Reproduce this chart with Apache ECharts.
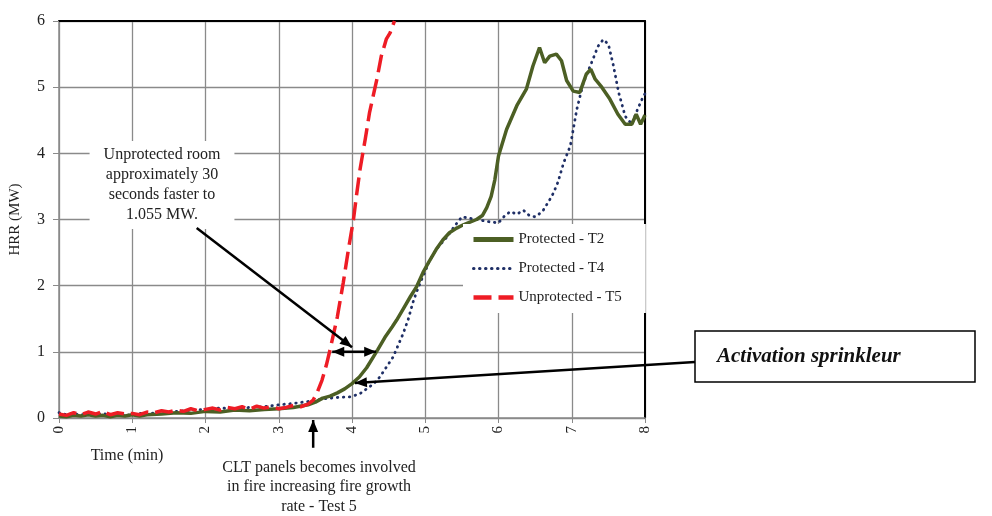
<!DOCTYPE html>
<html>
<head>
<meta charset="utf-8">
<script src="https://cdn.jsdelivr.net/npm/echarts@6/dist/echarts.min.js"></script>
<style>
  html, body { margin: 0; padding: 0; background: #fff; }
  #chart { width: 992px; height: 516px; }
</style>
</head>
<body>
<div id="chart"></div>
<script>
// time (min), HRR (MW)
const t2Time = [0,0.1,0.2,0.3,0.4,0.5,0.6,0.7,0.8,0.9,1.0,1.1,1.2,1.4,1.6,1.8,2.0,2.2,2.4,2.6,2.8,3.0,3.2,3.4,3.5,3.6,3.7,3.8,3.9,4.0,4.1,4.2,4.3,4.35,4.45,4.55,4.61,4.7,4.8,4.88,4.97,5.06,5.15,5.24,5.33,5.43,5.52,5.61,5.7,5.78,5.84,5.9,5.95,6.0,6.11,6.25,6.38,6.47,6.56,6.63,6.7,6.79,6.86,6.93,7.02,7.11,7.2,7.26,7.32,7.41,7.52,7.63,7.73,7.82,7.88,7.94,8.0];
const t2Hrr  = [0.03,0.02,0.04,0.03,0.05,0.03,0.04,0.02,0.04,0.03,0.05,0.03,0.05,0.06,0.08,0.07,0.10,0.09,0.12,0.11,0.13,0.14,0.16,0.20,0.24,0.30,0.33,0.38,0.44,0.52,0.62,0.76,0.94,1.03,1.22,1.38,1.48,1.65,1.84,1.98,2.20,2.38,2.55,2.69,2.80,2.87,2.92,2.96,3.00,3.06,3.18,3.35,3.60,3.96,4.36,4.72,4.97,5.32,5.60,5.37,5.47,5.50,5.40,5.10,4.94,4.92,5.20,5.27,5.12,5.00,4.82,4.59,4.44,4.44,4.59,4.44,4.58];

const t4Time = [0,0.1,0.2,0.3,0.4,0.5,0.6,0.7,0.8,0.9,1.0,1.1,1.2,1.4,1.6,1.8,2.0,2.2,2.4,2.6,2.8,3.0,3.2,3.4,3.6,3.8,3.97,4.1,4.2,4.3,4.38,4.47,4.56,4.63,4.7,4.77,4.83,4.88,4.93,5.0,5.06,5.15,5.3,5.4,5.5,5.6,5.7,5.8,5.9,6.0,6.08,6.16,6.25,6.34,6.42,6.5,6.6,6.7,6.75,6.81,6.89,6.98,7.07,7.16,7.27,7.36,7.43,7.5,7.57,7.64,7.73,7.82,7.9,7.98,8.0];
const t4Hrr  = [0.08,0.05,0.07,0.04,0.09,0.05,0.07,0.04,0.06,0.05,0.04,0.07,0.06,0.09,0.10,0.12,0.13,0.15,0.14,0.16,0.17,0.20,0.22,0.25,0.29,0.31,0.32,0.36,0.44,0.52,0.62,0.77,0.92,1.10,1.28,1.50,1.74,1.90,2.04,2.22,2.38,2.55,2.74,2.90,3.04,3.02,3.00,2.98,2.96,2.95,3.05,3.12,3.08,3.14,3.06,3.04,3.12,3.30,3.40,3.56,3.86,4.11,4.67,5.07,5.37,5.62,5.72,5.65,5.32,4.92,4.56,4.44,4.67,4.87,4.90];

const t5Time = [0,0.1,0.2,0.3,0.4,0.5,0.6,0.7,0.8,0.9,1.0,1.1,1.2,1.3,1.4,1.5,1.6,1.7,1.8,1.9,2.0,2.1,2.2,2.3,2.4,2.5,2.6,2.7,2.8,2.9,3.0,3.1,3.2,3.3,3.4,3.47,3.53,3.59,3.65,3.7,3.75,3.8,3.88,3.95,4.02,4.06,4.11,4.18,4.24,4.34,4.4,4.47,4.52,4.58];
const t5Hrr  = [0.06,0.04,0.08,0.05,0.09,0.06,0.10,0.05,0.08,0.06,0.07,0.05,0.09,0.08,0.11,0.09,0.12,0.10,0.14,0.11,0.13,0.15,0.12,0.16,0.14,0.17,0.13,0.18,0.15,0.17,0.14,0.16,0.19,0.17,0.21,0.27,0.40,0.57,0.80,1.03,1.28,1.53,2.04,2.54,3.00,3.35,3.76,4.21,4.62,5.12,5.47,5.73,5.82,6.00];

const seriesNames = ["Protected - T2", "Protected - T4", "Unprotected - T5"];
const xTicks = [0, 8, 1];   // min, max, step
const yTicks = [0, 6, 1];

function pairs(xs, ys) {
  return xs.map((x, i) => [x, ys[i]]);
}

const serif = "Liberation Serif, Times New Roman, serif";
const gridColor = "#8a8a8a";
const colT2 = "#4c5f24", colT4 = "#1f2f66", colT5 = "#ee1c25";

const chart = echarts.init(document.getElementById("chart"));
chart.setOption({
  animation: false,
  backgroundColor: "#fff",
  grid: { left: 59, right: 347, top: 21, bottom: 98 },
  legend: {
    orient: "vertical",
    left: 463,
    top: 224,
    itemWidth: 40,
    itemHeight: 15,
    itemGap: 14,
    padding: [8, 24, 8, 8],
    backgroundColor: "#fff",
    z: 10,
    itemStyle: { opacity: 0 },
    textStyle: { fontFamily: serif, fontSize: 15, color: "#222" },
    data: [
      { name: seriesNames[0], lineStyle: { width: 5 } },
      { name: seriesNames[1], lineStyle: { width: 3 } },
      { name: seriesNames[2], lineStyle: { width: 4.5 } }
    ]
  },
  xAxis: [
    {
      type: "value",
      min: xTicks[0], max: xTicks[1], interval: xTicks[2],
      axisLine: { lineStyle: { color: gridColor, width: 1.5 } },
      axisTick: { show: true, length: 5, lineStyle: { color: gridColor } },
      axisLabel: { rotate: 90, margin: 8, fontFamily: serif, fontSize: 15, color: "#222" },
      splitLine: { lineStyle: { color: gridColor, width: 1.3 } }
    },
    {
      type: "value", position: "top",
      min: xTicks[0], max: xTicks[1],
      axisLine: { show: true, onZero: false, lineStyle: { color: "#000", width: 2 } },
      axisTick: { show: false }, axisLabel: { show: false }, splitLine: { show: false }
    }
  ],
  yAxis: [
    {
      type: "value",
      min: yTicks[0], max: yTicks[1], interval: yTicks[2],
      name: "HRR (MW)",
      nameLocation: "middle",
      nameGap: 36,
      nameTextStyle: { fontFamily: serif, fontSize: 15, color: "#222" },
      axisLine: { show: true, onZero: false, lineStyle: { color: gridColor, width: 1.5 } },
      axisTick: { show: true, length: 6, lineStyle: { color: gridColor } },
      axisLabel: { margin: 14, fontFamily: serif, fontSize: 16, color: "#222" },
      splitLine: { lineStyle: { color: gridColor, width: 1.3 } }
    },
    {
      type: "value", position: "right",
      min: yTicks[0], max: yTicks[1],
      axisLine: { show: true, onZero: false, lineStyle: { color: "#000", width: 2 } },
      axisTick: { show: false }, axisLabel: { show: false }, splitLine: { show: false }
    }
  ],
  series: [
    {
      name: seriesNames[0], type: "line", symbol: "none", z: 4,
      data: pairs(t2Time, t2Hrr),
      lineStyle: { color: colT2, width: 3.5 },
      itemStyle: { color: colT2 }
    },
    {
      name: seriesNames[1], type: "line", symbol: "none", z: 3,
      data: pairs(t4Time, t4Hrr),
      lineStyle: { color: colT4, width: 2.8, type: [0.5, 5.5], cap: "round" },
      itemStyle: { color: colT4 }
    },
    {
      name: seriesNames[2], type: "line", symbol: "none", z: 5,
      data: pairs(t5Time, t5Hrr),
      lineStyle: { color: colT5, width: 3.5, type: [18, 7] },
      itemStyle: { color: colT5 }
    }
  ]
});

// annotations: arrows anchored to data coordinates
function px(x, y) {
  return chart.convertToPixel({ xAxisIndex: 0, yAxisIndex: 0 }, [x, y]);
}

function arrowHead(from, to, len, wid) {
  const dx = to[0] - from[0], dy = to[1] - from[1];
  const d = Math.sqrt(dx * dx + dy * dy);
  const ux = dx / d, uy = dy / d;
  const bx = to[0] - ux * len, by = to[1] - uy * len;
  return {
    type: "polygon", z: 100,
    shape: { points: [to, [bx - uy * wid / 2, by + ux * wid / 2], [bx + uy * wid / 2, by - ux * wid / 2]] },
    style: { fill: "#000" }
  };
}

function arrow(from, to, both) {
  const els = [{
    type: "line", z: 100,
    shape: { x1: from[0], y1: from[1], x2: to[0], y2: to[1] },
    style: { stroke: "#000", lineWidth: 2.5 }
  }, arrowHead(from, to, 12, 10)];
  if (both) els.push(arrowHead(to, from, 12, 10));
  return els;
}

const textColor = "#222";
const graphics = [].concat(
  [{
    type: "text", z: 90,
    style: {
      text: "Unprotected room\napproximately 30\nseconds faster to\n1.055 MW.",
      x: 162, y: 141, align: "center", verticalAlign: "top",
      font: "16px " + serif, lineHeight: 20, fill: textColor,
      backgroundColor: "#fff", padding: [4, 14, 4, 14]
    }
  }],
  arrow(px(1.88, 2.87), px(4.0, 1.07), false),
  arrow(px(3.73, 1.0), px(4.33, 1.0), true),
  [{
    type: "rect", z: 90,
    shape: { x: 695, y: 331, width: 280, height: 51 },
    style: { fill: "#fff", stroke: "#000", lineWidth: 1.5 }
  }, {
    type: "text", z: 91,
    style: {
      text: "Activation sprinkleur",
      x: 717, y: 357, verticalAlign: "middle",
      font: "italic bold 21px " + serif, fill: "#111"
    }
  }],
  arrow([695, 362], px(4.04, 0.53), false),
  arrow(px(3.47, -0.45), px(3.47, -0.03), false),
  [{
    type: "text", z: 90,
    style: {
      text: "CLT panels becomes involved\nin fire increasing fire growth\nrate - Test 5",
      x: 319, y: 458, align: "center", verticalAlign: "top",
      font: "16px " + serif, lineHeight: 19.5, fill: textColor
    }
  }, {
    type: "text", z: 90,
    style: {
      text: "Time (min)",
      x: 127, y: 456, align: "center", verticalAlign: "middle",
      font: "16px " + serif, fill: textColor
    }
  }]
);

chart.setOption({ graphic: graphics });
</script>
</body>
</html>
